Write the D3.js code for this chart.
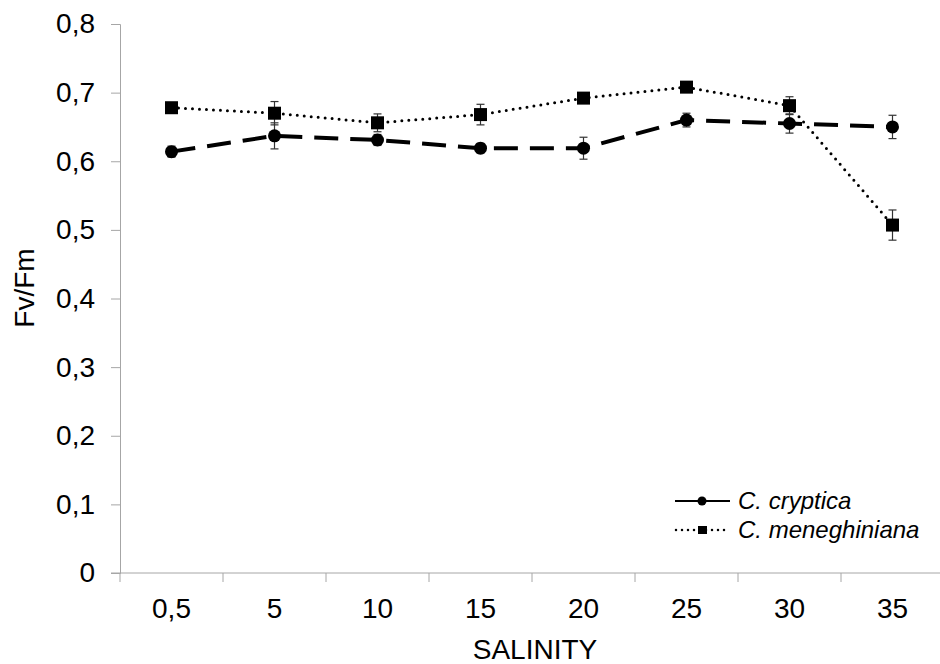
<!DOCTYPE html>
<html>
<head>
<meta charset="utf-8">
<script src="https://cdn.jsdelivr.net/npm/d3@7"></script>
<style>
  body { margin: 0; background: #fff; }
  svg { display: block; font-family: "Liberation Sans", Arial, sans-serif; }
</style>
</head>
<body>
<div id="chart"></div>
<script>
var width = 940, height = 664;
var margin = {top: 24, right: -4, bottom: 91, left: 120};

// salinity categories
var salinity = ["0,5", "5", "10", "15", "20", "25", "30", "35"];

// Fv/Fm means and error bars
var cryptica = [0.614, 0.637, 0.631, 0.619, 0.619, 0.660, 0.655, 0.650];
var crypticaErr = [0.008, 0.019, 0.008, 0.007, 0.016, 0.010, 0.014, 0.017];
var meneghiniana = [0.678, 0.670, 0.656, 0.668, 0.692, 0.708, 0.681, 0.507];
var meneghinianaErr = [0.003, 0.017, 0.013, 0.015, 0.004, 0.004, 0.013, 0.022];

var yTicks = [0, 0.1, 0.2, 0.3, 0.4, 0.5, 0.6, 0.7, 0.8];

var svg = d3.select("#chart").append("svg")
    .attr("width", width)
    .attr("height", height);

var x = d3.scaleBand().domain(salinity).range([margin.left, width - margin.right]).padding(0);
var y = d3.scaleLinear().domain([0, 0.8]).range([height - margin.bottom, margin.top]);
var cx = function(d, i) { return x(salinity[i]) + x.bandwidth() / 2; };

var fmt = function(v) { return d3.format(".1f")(v).replace(".", ","); };

// y axis
var yAxis = svg.append("g")
    .attr("transform", "translate(" + margin.left + ",0)")
    .call(d3.axisLeft(y).tickValues(yTicks).tickSize(9).tickPadding(16)
        .tickFormat(function(d) { return d === 0 ? "0" : fmt(d); }));
yAxis.selectAll("line, path").attr("stroke", "#a6a6a6");
yAxis.selectAll("text").style("font-size", "28px").attr("fill", "#000");

// x axis
var xAxis = svg.append("g")
    .attr("transform", "translate(0," + y(0) + ")")
    .call(d3.axisBottom(x).tickSize(0).tickPadding(25));
xAxis.select(".domain").attr("stroke", "#a6a6a6").attr("d", "M" + (margin.left - 9) + ",0H" + (width - margin.right));
xAxis.selectAll("text").style("font-size", "28px").attr("fill", "#000");
svg.append("g").selectAll("line")
    .data(salinity.concat(["end"]))
    .enter().append("line")
    .attr("x1", function(d, i) { return margin.left + i * x.bandwidth(); })
    .attr("x2", function(d, i) { return margin.left + i * x.bandwidth(); })
    .attr("y1", y(0)).attr("y2", y(0) + 9)
    .attr("stroke", "#a6a6a6");

// axis titles
svg.append("text")
    .attr("x", (margin.left + width - margin.right) / 2 + 3)
    .attr("y", 659)
    .attr("text-anchor", "middle")
    .style("font-size", "28px")
    .text("SALINITY");

svg.append("text")
    .attr("transform", "translate(34,288) rotate(-90)")
    .attr("text-anchor", "middle")
    .style("font-size", "28px")
    .text("Fv/Fm");

// error bars
function errorBars(vals, errs) {
    var g = svg.append("g").attr("stroke", "#333").attr("stroke-width", 1.2);
    vals.forEach(function(v, i) {
        var px = cx(null, i);
        g.append("line").attr("x1", px).attr("x2", px).attr("y1", y(v - errs[i])).attr("y2", y(v + errs[i]));
        g.append("line").attr("x1", px - 4).attr("x2", px + 4).attr("y1", y(v - errs[i])).attr("y2", y(v - errs[i]));
        g.append("line").attr("x1", px - 4).attr("x2", px + 4).attr("y1", y(v + errs[i])).attr("y2", y(v + errs[i]));
    });
}
errorBars(meneghiniana, meneghinianaErr);
errorBars(cryptica, crypticaErr);

var line = d3.line().x(function(d, i) { return cx(d, i); }).y(function(d) { return y(d); });

// C. meneghiniana - dotted
svg.append("path")
    .datum(meneghiniana)
    .attr("d", line)
    .attr("fill", "none")
    .attr("stroke", "#000")
    .attr("stroke-width", 3)
    .attr("stroke-linecap", "round")
    .attr("stroke-dasharray", "0,7");

// C. cryptica - long dashes
svg.append("path")
    .datum(cryptica)
    .attr("d", line)
    .attr("fill", "none")
    .attr("stroke", "#000")
    .attr("stroke-width", 4)
    .attr("stroke-dasharray", "24,12");

svg.selectAll(".sq")
    .data(meneghiniana)
    .enter().append("rect")
    .attr("x", function(d, i) { return cx(d, i) - 6.5; })
    .attr("y", function(d) { return y(d) - 6.5; })
    .attr("width", 13).attr("height", 13)
    .attr("fill", "#000");

svg.selectAll(".dot")
    .data(cryptica)
    .enter().append("circle")
    .attr("cx", function(d, i) { return cx(d, i); })
    .attr("cy", function(d) { return y(d); })
    .attr("r", 6.5)
    .attr("fill", "#000");

// legend
var legend = svg.append("g");
legend.append("line").attr("x1", 675).attr("x2", 730).attr("y1", 501).attr("y2", 501)
    .attr("stroke", "#000").attr("stroke-width", 2.2);
legend.append("circle").attr("cx", 702).attr("cy", 501).attr("r", 4.5).attr("fill", "#000");
legend.append("text").attr("x", 738).attr("y", 509).style("font-size", "24px").style("font-style", "italic").text("C. cryptica");

legend.append("line").attr("x1", 676).attr("x2", 730).attr("y1", 530).attr("y2", 530)
    .attr("stroke", "#000").attr("stroke-width", 2.5).attr("stroke-linecap", "round").attr("stroke-dasharray", "0,6");
legend.append("rect").attr("x", 698).attr("y", 526).attr("width", 9).attr("height", 8).attr("fill", "#000");
legend.append("text").attr("x", 738).attr("y", 538).style("font-size", "24px").style("font-style", "italic").text("C. meneghiniana");
</script>
</body>
</html>
